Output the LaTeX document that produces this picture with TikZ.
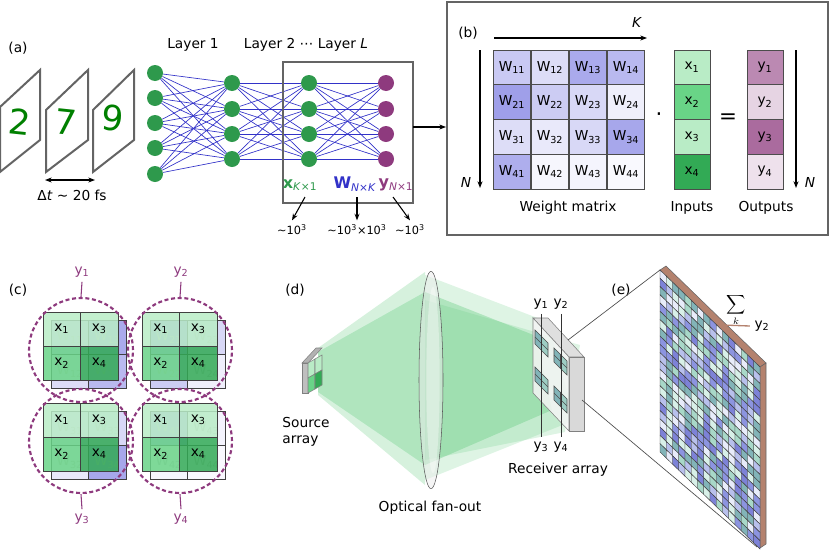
\documentclass[tikz,border=0pt]{standalone}
\usepackage{fontspec}
\setmainfont{DejaVu Sans}
\usetikzlibrary{arrows.meta,shapes.geometric}
\definecolor{ngreen}{RGB}{46,153,76}
\definecolor{npurple}{RGB}{142,58,126}
\definecolor{wblue}{RGB}{100,100,220}
\definecolor{cblue}{RGB}{50,50,200}
\definecolor{gl}{RGB}{185,236,198}
\definecolor{gm}{RGB}{105,212,135}
\definecolor{gd}{RGB}{50,170,85}
\definecolor{brn}{RGB}{180,130,110}
\definecolor{fr}{RGB}{100,100,100}
\definecolor{cone}{RGB}{90,200,120}
\definecolor{e0}{RGB}{232,236,250}
\definecolor{e1}{RGB}{184,192,236}
\definecolor{e2}{RGB}{140,148,224}
\definecolor{e3}{RGB}{168,216,200}
\definecolor{e4}{RGB}{130,180,184}
\definecolor{e5}{RGB}{216,240,232}
\definecolor{e6}{RGB}{125,130,215}
\begin{document}
\begin{tikzpicture}[x=0.75pt,y=-0.75pt,
  every node/.style={font=\fontsize{10.3}{12}\selectfont},
  frame/.style={draw=fr,line width=1.5pt,fill=white},
  neuron/.style={circle,fill=ngreen,minimum size=12pt,inner sep=0pt},
  oneuron/.style={neuron,fill=npurple},
  conn/.style={cblue,line width=0.5pt},
  arr/.style={-{Stealth[length=5pt]},line width=0.8pt},
  panel/.style={draw=fr,line width=1.5pt},
  digit/.style={text=green!50!black,font=\fontsize{26}{26}\selectfont},
  cell/.style={draw=black!70,minimum width=28.1pt,minimum height=26.1pt,inner sep=0pt},
  ccell/.style={draw=black!75,minimum width=28.1pt,minimum height=25.5pt,inner sep=0pt},
  dcirc/.style={draw=npurple,line width=1.6pt,dash pattern=on 3pt off 2pt},
  lab/.style={text=npurple}]
\useasboundingbox (0,0) rectangle (830,550);

% ---------------- (a)
\node (la) at (18,48) {(a)};
\draw[frame] (0,107) -- (40,70) -- (40,140) -- (0,172) -- cycle;
\draw[frame] (46,110) -- (88,70) -- (88,140) -- (46,172) -- cycle;
\draw[frame] (93,110) -- (134,70) -- (134,140) -- (93,172) -- cycle;
\node[digit,rotate=-6] (d1) at (20,122) {2};
\node[digit,rotate=-6] (d2) at (66,122) {7};
\node[digit,rotate=-6] (d3) at (113,118) {9};
\coordinate (ta) at (45,180); \coordinate (tb) at (95,180);
\draw[{Stealth[length=5pt]}-{Stealth[length=5pt]},line width=0.8pt] (ta) -- (tb);
\node (dt) at (72,195) {Δ\textit{t} ∼ 20 fs};

\node (ly1) at (193,45) {Layer 1};
\node (ly2) at (306,45) {Layer 2 ⋯ Layer \textit{L}};

\foreach \i/\y in {1/73,2/98,3/123,4/148,5/174} \node[neuron] (a\i) at (155,\y) {};
\foreach \i/\y in {1/83,2/109,3/134,4/159} {
  \node[neuron] (b\i) at (232,\y) {};
  \node[neuron] (c\i) at (309,\y) {};
  \node[oneuron] (e\i) at (386,\y) {};
}
\foreach \i in {1,...,5} \foreach \j in {1,...,4} \draw[conn] (a\i) -- (b\j);
\foreach \i in {1,...,4} \foreach \j in {1,...,4} {\draw[conn] (b\i) -- (c\j); \draw[conn] (c\i) -- (e\j);}

\draw[panel] (283,62) rectangle (413,203);
\coordinate (boxr) at (413,127); \coordinate (boxb) at (446,127);
\draw[arr] (boxr) -- (boxb);
\node[text=ngreen,inner sep=1pt] (xl) at (300,185) {\fontsize{12}{12}\selectfont\textbf{x}\textsubscript{\textit{K}×1}};
\node[text=cblue,inner sep=1pt] (wl) at (355,184) {\fontsize{12}{12}\selectfont\textbf{W}\textsubscript{\textit{N}×\textit{K}}};
\node[text=npurple,inner sep=1pt] (yl) at (396,185) {\fontsize{12}{12}\selectfont\textbf{y}\textsubscript{\textit{N}×1}};
\node[font=\fontsize{8.5}{9}\selectfont] (n1) at (292,230) {∼10\textsuperscript{3}};
\node[font=\fontsize{8.5}{9}\selectfont] (n2) at (357,230) {∼10\textsuperscript{3}×10\textsuperscript{3}};
\node[font=\fontsize{8.5}{9}\selectfont] (n3) at (410,230) {∼10\textsuperscript{3}};
\draw[arr] (305,197) -- (n1.north);
\draw[arr] (357,197) -- (n2.north);
\draw[arr] (393,197) -- (n3.north);

% ---------------- (b)
\draw[panel] (447,2) rectangle (828,235);
\node (lb) at (468,33) {(b)};
\coordinate (k0) at (494,38); \coordinate (k1) at (647,38);
\draw[arr] (k0) -- (k1);
\node (kk) at (637,22) {\textit{K}};
\coordinate (nn0) at (480,50); \coordinate (nn1) at (480,188);
\draw[arr] (nn0) -- (nn1);
\node (nl) at (466,182) {\textit{N}};
\foreach \r/\c/\v in {1/1/35,1/2/22,1/3/55,1/4/45,2/1/62,2/2/33,2/3/25,2/4/10,
                       3/1/22,3/2/14,3/3/25,3/4/57,4/1/52,4/2/6,4/3/7,4/4/4}
  \node[cell,fill=wblue!\v!white] (m\r\c) at ({493+38*(\c-1)+19},{50+34.75*(\r-1)+17.4}) {W\textsubscript{\r\c}};
\foreach \r/\col in {1/gl,2/gm,3/gl,4/gd}
  \node[cell,minimum width=27pt,fill=\col] (x\r) at (692,{50+34.75*(\r-1)+17.4}) {x\textsubscript{\r}};
\foreach \r/\col in {1/npurple!60!white,2/npurple!22!white,3/npurple!75!white,4/npurple!15!white}
  \node[cell,minimum width=27pt,fill=\col] (y\r) at (765,{50+34.75*(\r-1)+17.4}) {y\textsubscript{\r}};
\node[font=\fontsize{16}{16}\selectfont] (dot) at (659,117) {·};
\node[font=\fontsize{16}{16}\selectfont] (eq) at (728,119) {=};
\coordinate (nr0) at (796,50); \coordinate (nr1) at (796,188);
\draw[arr] (nr0) -- (nr1);
\node (nr) at (810,182) {\textit{N}};
\node (wm) at (568,208) {Weight matrix};
\node (inp) at (692,208) {Inputs};
\node (outp) at (766,208) {Outputs};

% ---------------- (c)
\node (lc) at (18,290) {(c)};
\foreach \g/\gx/\gy/\va/\vb/\vc/\vd in {1/43/312/35/22/55/45,2/142/312/62/33/25/10,3/43/403/22/14/25/57,4/142/403/52/6/7/4} {
  \node[ccell,fill=wblue!\va!white,text=gray!45] (w\g a) at ({\gx+8+18.75},{\gy+8+17}) {W\textsubscript{\g1}};
  \node[ccell,fill=wblue!\vc!white,text=gray!45] (w\g c) at ({\gx+8+56.25},{\gy+8+17}) {W\textsubscript{\g3}};
  \node[ccell,fill=wblue!\vb!white,text=gray!45] (w\g b) at ({\gx+8+18.75},{\gy+8+51}) {W\textsubscript{\g2}};
  \node[ccell,fill=wblue!\vd!white,text=gray!45] (w\g d) at ({\gx+8+56.25},{\gy+8+51}) {W\textsubscript{\g4}};
  \node[ccell,fill=gl,fill opacity=0.85,text opacity=1] (g\g a) at ({\gx+18.75},{\gy+17}) {x\textsubscript{1}};
  \node[ccell,fill=gl,fill opacity=0.85,text opacity=1] (g\g c) at ({\gx+56.25},{\gy+17}) {x\textsubscript{3}};
  \node[ccell,fill=gm,fill opacity=0.85,text opacity=1] (g\g b) at ({\gx+18.75},{\gy+51}) {x\textsubscript{2}};
  \node[ccell,fill=gd,fill opacity=0.85,text opacity=1] (g\g d) at ({\gx+56.25},{\gy+51}) {x\textsubscript{4}};
  \node[circle,dcirc,minimum size=78pt] (cc\g) at ({\gx+38},{\gy+38}) {};
}
\node[lab] (cy1) at (82,272) {y\textsubscript{1}};
\node[lab] (cy2) at (181,272) {y\textsubscript{2}};
\node[lab] (cy3) at (82,519) {y\textsubscript{3}};
\node[lab] (cy4) at (181,519) {y\textsubscript{4}};
\draw[npurple,line width=0.8pt] (cy1.south) -- (cc1.north);
\draw[npurple,line width=0.8pt] (cy2.south) -- (cc2.north);
\draw[npurple,line width=0.8pt] (cy3.north) -- (cc3.south);
\draw[npurple,line width=0.8pt] (cy4.north) -- (cc4.south);

% ---------------- (d)
\node (ld) at (295,290) {(d)};
\fill[cone,opacity=0.25] (318,348) -- (425,272) -- (425,485) -- (318,395) -- cycle;
\fill[cone,opacity=0.3] (318,352) -- (425,292) -- (425,465) -- (318,392) -- cycle;
\fill[cone,opacity=0.2] (425,275) -- (548,322) -- (575,420) -- (425,480) -- cycle;
\fill[cone,opacity=0.35] (425,292) -- (536,336) -- (552,410) -- (425,465) -- cycle;
\fill[cone,opacity=0.2] (425,300) -- (580,345) -- (565,432) -- (425,460) -- cycle;
\fill[gray!60,draw=gray] (302,363) -- (308,363) -- (322,348) -- (316,348) -- cycle;
\fill[gray!50,draw=gray] (302,363) -- (308,363) -- (308,393) -- (302,393) -- cycle;
\fill[gl,draw=gray] (308,363) -- (315,359) -- (315,374) -- (308,378) -- cycle;
\fill[gl,draw=gray] (315,359) -- (322,355) -- (322,370) -- (315,374) -- cycle;
\fill[gm,draw=gray] (308,378) -- (315,374) -- (315,389) -- (308,393) -- cycle;
\fill[gd,draw=gray] (315,374) -- (322,370) -- (322,385) -- (315,389) -- cycle;
\node[align=left] (src) at (306,432) {Source\\array};
\node[ellipse,draw=gray!70!black,fill=gray!15,fill opacity=0.5,minimum width=18pt,minimum height=163pt,inner sep=0pt] (lens) at (431,380) {};
\node[ellipse,fill=white,fill opacity=0.35,minimum width=10pt,minimum height=140pt,inner sep=0pt] (lensi) at (433,380) {};
\node (ofo) at (430,508) {Optical fan-out};
\fill[gray!25,draw=gray] (533,318) -- (548,318) -- (584,357) -- (569,357) -- cycle;
\fill[gray!30,draw=gray] (569,357) -- (584,357) -- (584,431) -- (569,431) -- cycle;
\fill[white!92!gray,fill opacity=0.85,draw=gray] (533,318) -- (569,357) -- (569,431) -- (533,393) -- cycle;
\foreach \sx/\sy in {535/330,554/348,535/367,554/386} {
  \fill[e4,draw=black!70] (\sx,\sy) -- ({\sx+6.5},{\sy+6.5}) -- ({\sx+6.5},{\sy+20.5}) -- (\sx,{\sy+14}) -- cycle;
  \fill[e3!70!e4,draw=black!70] ({\sx+6.5},{\sy+6.5}) -- ({\sx+13},{\sy+13}) -- ({\sx+13},{\sy+27}) -- ({\sx+6.5},{\sy+20.5}) -- cycle;
  \draw[black!70] (\sx,{\sy+7}) -- ({\sx+13},{\sy+20});
}
\node (ry1) at (541,304) {y\textsubscript{1}};
\node (ry2) at (561,304) {y\textsubscript{2}};
\node (ry3) at (541,447) {y\textsubscript{3}};
\node (ry4) at (561,447) {y\textsubscript{4}};
\draw[black!80,line width=0.6pt] (ry1.south) -- (ry3.north);
\draw[black!80,line width=0.6pt] (ry2.south) -- (ry4.north);
\node (rcv) at (558,470) {Receiver array};

% ---------------- (e)
\node (le) at (621,290) {(e)};
\coordinate (zl1) at (568,340); \coordinate (zl2) at (582,400);
\coordinate (pt) at (660,270); \coordinate (pb) at (757,547);
\draw[black!70,line width=0.5pt] (zl1) -- (pt);
\draw[black!70,line width=0.5pt] (zl2) -- (pb);
\fill[brn,draw=black!60] (660,270) -- (666,266) -- (766,363) -- (760,367) -- cycle;
\fill[brn,draw=black!60] (760,367) -- (766,363) -- (766,544) -- (760,548) -- cycle;
\pgfmathsetseed{7}
\foreach \u in {0,...,15} \foreach \v in {0,...,21} {
  \pgfmathrandominteger{\cc}{0}{6}
  \fill[e\cc,draw=black!75,line width=0.35pt]
    ({660+\u*6.25},{270+0.97*\u*6.25+\v*8.27}) --
    ({660+(\u+1)*6.25},{270+0.97*(\u+1)*6.25+\v*8.27}) --
    ({660+(\u+1)*6.25},{270+0.97*(\u+1)*6.25+(\v+1)*8.27}) --
    ({660+\u*6.25},{270+0.97*\u*6.25+(\v+1)*8.27}) -- cycle;
}
\node (sig) at (736,310) {$\displaystyle\sum_{k}$};
\node (ey2) at (762,326) {y\textsubscript{2}};
\coordinate (sl) at (722,325);
\draw[brn,line width=1pt] (sl) -- (ey2.west);
\end{tikzpicture}
\end{document}
